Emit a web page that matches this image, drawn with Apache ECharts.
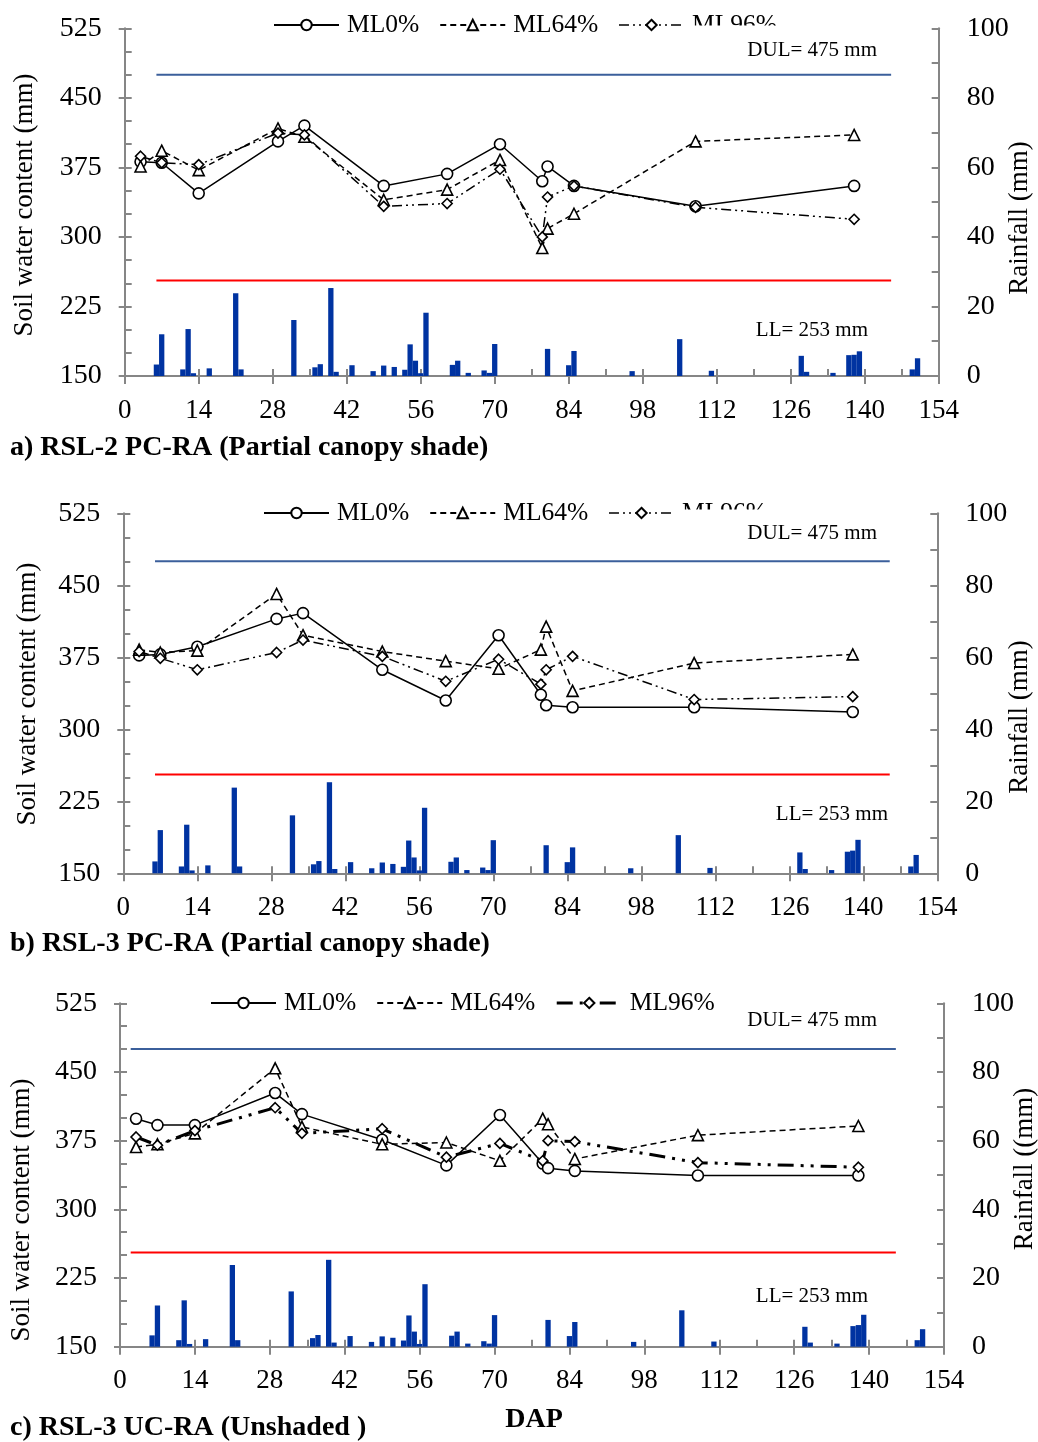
<!DOCTYPE html>
<html><head><meta charset="utf-8">
<script src="https://cdn.jsdelivr.net/npm/echarts@6/dist/echarts.min.js"></script>
<style>html,body{margin:0;padding:0;background:#fff}#c{width:1038px;height:1442px}</style>
</head><body><div id="c"></div>
<script>
// ---- data ----
const days = [3, 7, 14, 29, 34, 49, 61, 71, 79, 80, 85, 108, 138];
const seriesNames = ['ML0%', 'ML64%', 'ML96%'];
// panel a) RSL-2 PC-RA
const a_ML0  = [381, 380, 347, 403, 420, 355, 368, 400, 360, 376, 355, 333, 355];
const a_ML64 = [376, 393, 372, 417, 408, 340, 351, 383, 288, 309, 325, 403, 410];
const a_ML96 = [387, 380, 378, 412, 410, 333, 336, 373, 300, 343, 355, 332, 319];
// panel b) RSL-3 PC-RA
const b_ML0  = [377, 378, 386, 415, 421, 362, 330, 398, 336, 325, 323, 323, 318];
const b_ML64 = [383, 380, 382, 441, 398, 381, 371, 363, 383, 407, 340, 369, 378];
const b_ML96 = [381, 374, 362, 380, 393, 376, 350, 373, 347, 362, 376, 331, 334];
// panel c) RSL-3 UC-RA
const c_ML0  = [399, 392, 392, 427, 404, 376, 348, 403, 350, 345, 342, 337, 337];
const c_ML64 = [368, 371, 383, 454, 390, 371, 373, 353, 399, 393, 355, 381, 391];
const c_ML96 = [379, 370, 386, 411, 383, 388, 357, 372, 353, 375, 374, 351, 346];
// rainfall (mm)
const rainDays = [6,7,11,12,13,16,21,22,32,36,37,39,40,43,47,49,51,53,54,55,56,57,62,63,65,68,69,70,80,84,85,96,105,111,128,129,134,137,138,139,149,150];
const rainA  = [3.3,12,1.9,13.5,0.8,2.2,23.8,1.9,16.1,2.5,3.4,25.3,1.2,3.1,1.4,3,2.6,1.8,9.1,4.4,0.8,18.2,3.2,4.4,0.9,1.6,0.9,9.2,7.8,3.1,7.2,1.4,10.6,1.5,5.8,1.2,0.9,6,6.1,7.1,1.9,5.1];
const rainBC = [3.3,12,1.9,13.5,0.8,2.2,23.8,1.9,16.1,2.5,3.4,25.3,1.2,3.1,1.4,3,2.6,1.8,9.1,4.4,0.8,18.2,3.2,4.4,0.9,1.6,0.9,9.2,7.8,3.1,7.2,1.4,10.6,1.5,5.8,1.2,0.9,6,6.3,9.3,1.9,5.1];
const DUL = 475, LL = 253;
const limitStart = [6, 6, 2], limitEnd = 145;
const xTicks = {min: 0, max: 154, interval: 14};
const swcTicks = {min: 150, max: 525, interval: 75};
const rainTicks = {min: 0, max: 100, interval: 20};
const panelTitles = ['a) RSL-2 PC-RA (Partial canopy shade)', 'b) RSL-3 PC-RA (Partial canopy shade)', 'c) RSL-3 UC-RA (Unshaded )'];
const rightTitles = ['Rainfall (mm)', 'Rainfall (mm)', 'Rainfall ((mm)'];
const leftTitle = 'Soil water content (mm)';
const panelSWC = [[a_ML0, a_ML64, a_ML96], [b_ML0, b_ML64, b_ML96], [c_ML0, c_ML64, c_ML96]];
const panelRain = [rainA, rainBC, rainBC];

// ---- layout / style ----
const FONT = 'Liberation Serif';
const AX = '#868686';
const grids = [
  {left: 124.7, top: 28.3, width: 814, height: 347.7},
  {left: 123.3, top: 513.3, width: 814, height: 360},
  {left: 120, top: 1003.3, width: 824, height: 343.4}
];
const legendPos = [{left: 268, top: 7}, {left: 258, top: 495}, {left: 205, top: 985}];
const leftTitlePos = [[25, 205], [28, 694], [22, 1210]];
const rightTitlePos = [[1020, 218], [1020, 717], [1025, 1169]];
const axLine = {show: true, onZero: false, lineStyle: {color: AX, width: 2}};
const tickStyle = {color: AX, width: 2};
const lbl = {fontFamily: FONT, fontSize: 27, color: '#000'};
const lblY = {fontFamily: FONT, fontSize: 28, color: '#000'};
const dash96 = [[10, 4, 2, 4, 2, 4], [10, 4, 2, 4, 2, 4], [16, 7, 3, 7, 3, 7]];
const w96 = [1.5, 1.5, 3];
const symbols = ['circle', 'triangle', 'diamond'];
const symSize = [11, 11, 10];

const xAxis = [], yAxis = [], series = [], legend = [], graphic = [];
grids.forEach((g, i) => {
  xAxis.push({gridIndex: i, type: 'value', ...xTicks, position: 'bottom',
    axisLine: axLine, axisTick: {show: true, inside: true, length: 7, lineStyle: tickStyle},
    minorTick: {show: true, splitNumber: 2, length: 7, lineStyle: tickStyle},
    splitLine: {show: false}, axisLabel: {...lbl, margin: 21}});
  xAxis.push({gridIndex: i, type: 'value', ...xTicks, position: 'bottom',
    axisLine: {show: false}, axisTick: {show: true, inside: false, length: 8, lineStyle: tickStyle},
    splitLine: {show: false}, axisLabel: {show: false}});
  yAxis.push({gridIndex: i, type: 'value', ...swcTicks, position: 'left',
    axisLine: axLine, axisTick: {show: true, inside: true, length: 7, lineStyle: tickStyle},
    minorTick: {show: true, splitNumber: 3, length: 7, lineStyle: tickStyle},
    splitLine: {show: false}, axisLabel: {...lblY, margin: 23}});
  yAxis.push({gridIndex: i, type: 'value', ...swcTicks, position: 'left',
    axisLine: {show: false}, axisTick: {show: true, inside: false, length: 6, lineStyle: tickStyle},
    splitLine: {show: false}, axisLabel: {show: false}});
  yAxis.push({gridIndex: i, type: 'value', ...rainTicks, position: 'right',
    axisLine: axLine, axisTick: {show: true, inside: true, length: 7, lineStyle: tickStyle},
    minorTick: {show: true, splitNumber: 2, length: 7, lineStyle: tickStyle},
    splitLine: {show: false}, axisLabel: {...lblY, margin: 28}});
  yAxis.push({gridIndex: i, type: 'value', ...rainTicks, position: 'right',
    axisLine: {show: false}, axisTick: {show: true, inside: false, length: 6, lineStyle: tickStyle},
    splitLine: {show: false}, axisLabel: {show: false}});

  series.push({type: 'bar', xAxisIndex: 2 * i, yAxisIndex: 4 * i + 2, z: 1, barWidth: 5.3,
    itemStyle: {color: '#0033A1'}, silent: true,
    data: rainDays.map((d, k) => [d, panelRain[i][k]])});
  series.push({type: 'line', xAxisIndex: 2 * i, yAxisIndex: 4 * i, symbol: 'none', silent: true,
    lineStyle: {color: '#3B5F9B', width: 2}, data: [[limitStart[i], DUL], [limitEnd, DUL]]});
  series.push({type: 'line', xAxisIndex: 2 * i, yAxisIndex: 4 * i, symbol: 'none', silent: true,
    lineStyle: {color: '#FF0000', width: 2}, data: [[limitStart[i], LL], [limitEnd, LL]]});
  seriesNames.forEach((nm, s) => {
    const ls = {color: '#000', width: s === 2 ? w96[i] : 1.5,
      type: s === 0 ? 'solid' : (s === 1 ? [6, 4] : dash96[i])};
    series.push({type: 'line', name: nm, xAxisIndex: 2 * i, yAxisIndex: 4 * i, z: 3,
      symbol: symbols[s], symbolSize: symSize[s], showAllSymbol: true,
      color: '#000', lineStyle: ls,
      itemStyle: {color: '#fff', borderColor: '#000', borderWidth: 1.6},
      data: days.map((d, k) => [d, panelSWC[i][s][k]])});
  });
  legend.push({...legendPos[i], orient: 'horizontal', selectedMode: false,
    itemWidth: 65, itemHeight: 13, itemGap: 20,
    textStyle: {fontFamily: FONT, fontSize: 25.5, color: '#000', padding: [0, 0, 0, 3]},
    data: seriesNames.map((nm, s) => s === 2 ? {name: nm, lineStyle: {width: w96[i], type: dash96[i]}} : {name: nm})});
});

const txt = (x, y, t, font, align, rot) => ({type: 'text', x: x, y: y, z: 60, rotation: rot || 0,
  style: {text: t, font: font, fill: '#000', align: align, verticalAlign: 'middle', textAlign: align, textVerticalAlign: 'middle'}});
// white boxes behind the DUL labels (they hide part of the legend as in the original)
graphic.push({type: 'rect', z: 55, shape: {x: 686, y: 25.5, width: 207, height: 15}, style: {fill: '#fff'}});
graphic.push({type: 'rect', z: 55, shape: {x: 682, y: 509.5, width: 212, height: 15}, style: {fill: '#fff'}});
const dulPos = [[877, 50], [877, 533], [877, 1020]];
const llPos = [[868, 330], [888, 814], [868, 1296]];
const titlePos = [448, 944, 1428];
const F27 = '27px "Liberation Serif"';
for (let i = 0; i < 3; i++) {
  graphic.push(txt(dulPos[i][0], dulPos[i][1], 'DUL= ' + DUL + ' mm', '21px "Liberation Serif"', 'right'));
  graphic.push(txt(llPos[i][0], llPos[i][1], 'LL= ' + LL + ' mm', '21px "Liberation Serif"', 'right'));
  graphic.push(txt(10, titlePos[i], panelTitles[i], 'bold 28px "Liberation Serif"', 'left'));
  graphic.push(txt(leftTitlePos[i][0], leftTitlePos[i][1], leftTitle, F27, 'center', Math.PI / 2));
  graphic.push(txt(rightTitlePos[i][0], rightTitlePos[i][1], rightTitles[i], F27, 'center', Math.PI / 2));
}
graphic.push(txt(534, 1420, 'DAP', 'bold 28px "Liberation Serif"', 'center'));

const chart = echarts.init(document.getElementById('c'), null, {renderer: 'canvas'});
chart.setOption({
  animation: false,
  backgroundColor: '#fff',
  grid: grids.map(g => ({...g, containLabel: false, outerBoundsMode: 'none'})),
  xAxis, yAxis, series, legend, graphic
});
</script></body></html>
